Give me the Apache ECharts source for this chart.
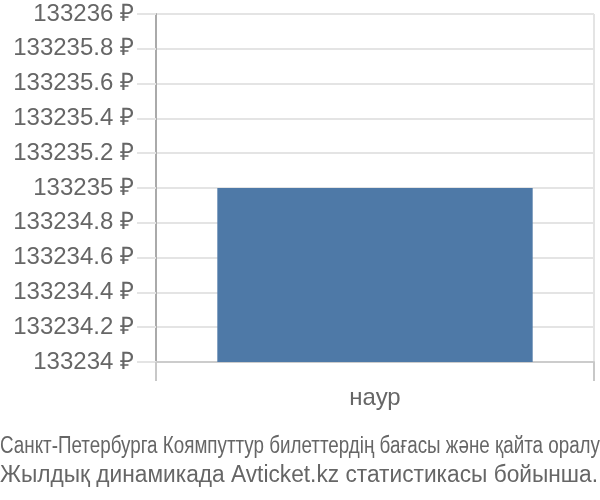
<!DOCTYPE html>
<html>
<head>
<meta charset="utf-8">
<script src="https://cdn.jsdelivr.net/npm/echarts@6/dist/echarts.min.js"></script>
<style>html,body{margin:0;padding:0;background:#fff}#c{width:600px;height:500px}</style>
</head>
<body>
<div id="c"></div>
<script>
const categories = ['наур'];
const values = [133235];
const yMin = 133234, yMax = 133236, yStep = 0.2;
const currency = '₽';
const titleLine1 = 'Санкт-Петербурга Коямпуттур билеттердің бағасы және қайта оралу';
const titleLine2 = 'Жылдық динамикада Avticket.kz статистикасы бойынша.';

const FONT = "'Liberation Sans', Arial, sans-serif";
const titleSize = 23;
function measure(t, size) {
  const cv = document.createElement('canvas').getContext('2d');
  cv.font = size + 'px ' + FONT;
  return cv.measureText(t).width;
}
const w1 = measure(titleLine1, titleSize);
const w2 = measure(titleLine2, titleSize);
const sx1 = 600 / w1;
const sx2 = 598 / w2;

const chart = echarts.init(document.getElementById('c'), null, {renderer: 'canvas'});
chart.setOption({
  animation: false,
  textStyle: {fontFamily: FONT},
  grid: {left: 156, right: 6, top: 14, bottom: 138, containLabel: false},
  xAxis: {
    type: 'category',
    data: categories,
    boundaryGap: true,
    axisLine: {show: true, lineStyle: {color: '#cccccc', width: 2}},
    axisTick: {show: true, length: 19, lineStyle: {color: '#c8c8c8', width: 2}},
    splitLine: {show: true, lineStyle: {color: '#e4e4e4', width: 2}},
    axisLabel: {color: '#666', fontSize: 24, margin: 24, fontFamily: FONT}
  },
  yAxis: {
    type: 'value',
    min: yMin, max: yMax, interval: yStep,
    axisLine: {show: true, lineStyle: {color: '#aaaaaa', width: 2}},
    axisTick: {show: true, length: 19, lineStyle: {color: '#e4e4e4', width: 2}},
    splitLine: {show: true, lineStyle: {color: '#e4e4e4', width: 2}},
    axisLabel: {
      color: '#666', fontSize: 24, margin: 22, fontFamily: FONT,
      formatter: v => parseFloat(v.toFixed(1)) + ' ' + currency
    }
  },
  series: [{
    type: 'bar',
    data: values,
    barWidth: '72%',
    itemStyle: {color: '#4e79a7'}
  }],
  graphic: [
    {type: 'text', left: 0, top: 435, scaleX: sx1, originX: 0,
      style: {text: titleLine1, font: titleSize + 'px ' + FONT, fill: '#666'}},
    {type: 'text', left: 0, top: 464, scaleX: sx2, originX: 0,
      style: {text: titleLine2, font: titleSize + 'px ' + FONT, fill: '#666'}}
  ]
});
</script>
</body>
</html>
